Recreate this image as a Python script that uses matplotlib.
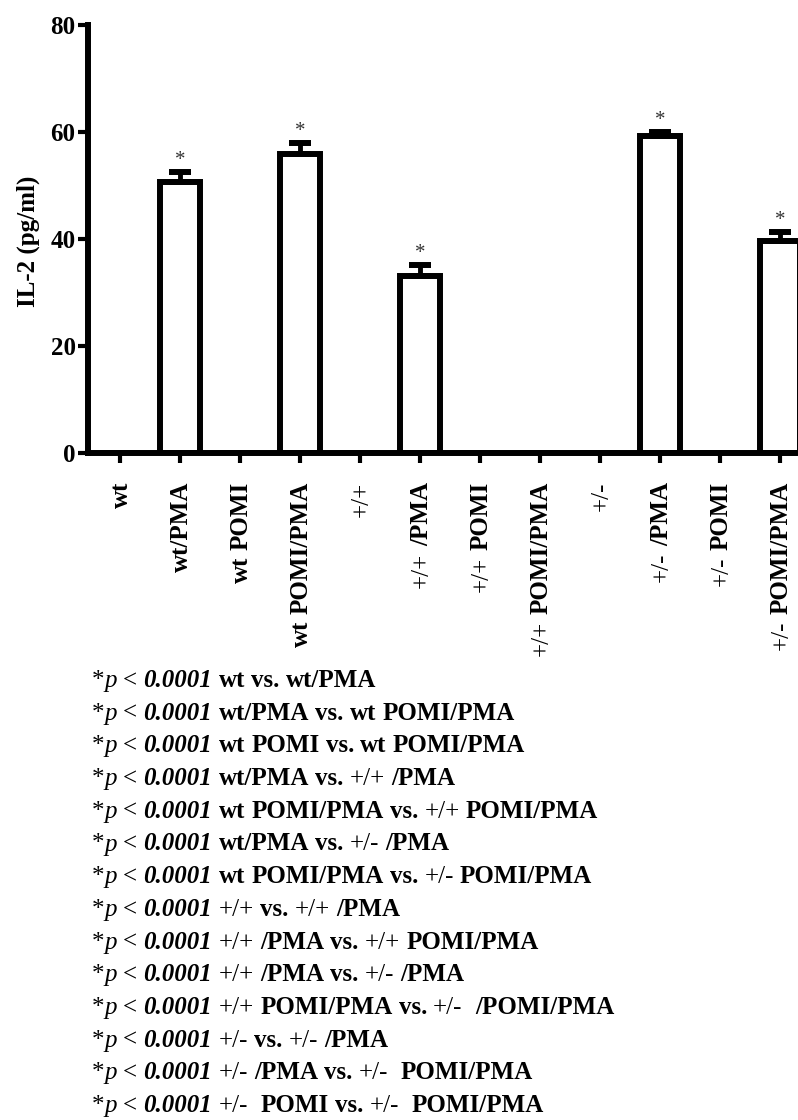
import re
import matplotlib
matplotlib.use("Agg")
import matplotlib.pyplot as plt
from matplotlib.transforms import IdentityTransform
import numpy as np

groups = ["wt", "wt/PMA", "wt POMI", "wt POMI/PMA", "+/+", "+/+ /PMA",
          "+/+ POMI", "+/+ POMI/PMA", "+/-", "+/- /PMA", "+/- POMI",
          "+/- POMI/PMA"]
il2 = [0, 50.6, 0, 55.9, 0, 33.1, 0, 0, 0, 59.2, 0, 39.6]
sem = [0, 1.9, 0, 2.1, 0, 2.1, 0, 0, 0, 0.8, 0, 1.8]
starred = [False, True, False, True, False, True, False, False, False, True, False, True]

comparisons = [
    ("wt", "wt/PMA"),
    ("wt/PMA", "wt POMI/PMA"),
    ("wt POMI", "wt POMI/PMA"),
    ("wt/PMA", "+/+ /PMA"),
    ("wt POMI/PMA", "+/+ POMI/PMA"),
    ("wt/PMA", "+/- /PMA"),
    ("wt POMI/PMA", "+/- POMI/PMA"),
    ("+/+", "+/+ /PMA"),
    ("+/+ /PMA", "+/+ POMI/PMA"),
    ("+/+ /PMA", "+/- /PMA"),
    ("+/+ POMI/PMA", "+/-  /POMI/PMA"),
    ("+/-", "+/- /PMA"),
    ("+/- /PMA", "+/-  POMI/PMA"),
    ("+/-  POMI", "+/-  POMI/PMA"),
]
p_text = "0.0001"

FONT = "Liberation Serif"
FS = 18
W, H, DPI = 798, 1120, 100

fig = plt.figure(figsize=(W / DPI, H / DPI), dpi=DPI)
ax = fig.add_axes([88 / W, 1 - 453 / H, 710 / W, (453 - 25) / H])
renderer = fig.canvas.get_renderer()

x = np.arange(len(groups))
ax.bar(x, il2, width=0.66, color="white", edgecolor="black", linewidth=4.3, zorder=2)

idx = [i for i in range(len(groups)) if il2[i] > 0]
ax.errorbar(x[idx], np.array(il2)[idx], yerr=[np.zeros(len(idx)), np.array(sem)[idx]],
            fmt="none", ecolor="black", elinewidth=3.5, capsize=8, capthick=4.3, zorder=3)
for i in range(len(groups)):
    if starred[i]:
        ax.text(x[i], il2[i] + sem[i] + 1.3, "*", ha="center", va="baseline",
                fontsize=15, family=FONT, color="#333333")

ax.set_xlim(-0.533, 11.3)
ax.set_ylim(0, 80)
ax.set_yticks([0, 20, 40, 60, 80])
ax.set_xticks(x)
ax.set_xticklabels([])
for s in ["top", "right"]:
    ax.spines[s].set_visible(False)
for s in ["left", "bottom"]:
    ax.spines[s].set_linewidth(4.3)
ax.tick_params(axis="both", direction="out", length=7, width=3)
ax.tick_params(axis="y", pad=2)
for lab in ax.get_yticklabels():
    lab.set_fontfamily(FONT)
    lab.set_fontweight("bold")
    lab.set_fontsize(FS)

fig.text(28, H - 241, "IL-2 (pg/ml)", transform=IdentityTransform(), rotation=90,
         ha="center", va="center", family=FONT, weight="bold", fontsize=FS)

space_px = 0.25 * FS * DPI / 72


def split_tokens(s):
    out = []
    for t in re.split(r"(\s+|\+/\+|\+/-)", s):
        if not t:
            continue
        if t.isspace():
            out.append((t, None, None))
        elif t in ("+/+", "+/-"):
            out.append((t, "normal", "normal"))
        else:
            out.append((t, "bold", "normal"))
    return out


def draw_runs(px, py, runs, vertical=False):
    seq = runs[::-1] if vertical else runs
    for txt, weight, style in seq:
        if weight is None:
            step = len(txt) * space_px
            if vertical:
                py -= step
            else:
                px += step
            continue
        if vertical:
            t = fig.text(px, py, txt, transform=IdentityTransform(), rotation=90,
                         rotation_mode="anchor", ha="right", va="baseline",
                         family=FONT, weight=weight, style=style, fontsize=FS)
            py = t.get_window_extent(renderer).y0
        else:
            t = fig.text(px, py, txt, transform=IdentityTransform(), ha="left",
                         va="baseline", family=FONT, weight=weight, style=style,
                         fontsize=FS)
            px = t.get_window_extent(renderer).x1


# rotated category labels
axis_y = ax.transData.transform((0, 0))[1]
for i, g in enumerate(groups):
    tx = ax.transData.transform((x[i], 0))[0]
    draw_runs(tx + 8, axis_y - 29, split_tokens(g), vertical=True)

# p-value notes
sp = (" ", None, None)
for k, (a, b) in enumerate(comparisons):
    runs = [("*", "normal", "normal"), ("p", "normal", "italic"), sp,
            ("<", "normal", "normal"), sp, (p_text, "bold", "italic"), sp]
    runs += split_tokens(a) + [sp, ("vs.", "bold", "normal"), sp] + split_tokens(b)
    draw_runs(92, H - 687 - k * 32.7, runs)

fig.savefig("out.png", dpi=DPI)
